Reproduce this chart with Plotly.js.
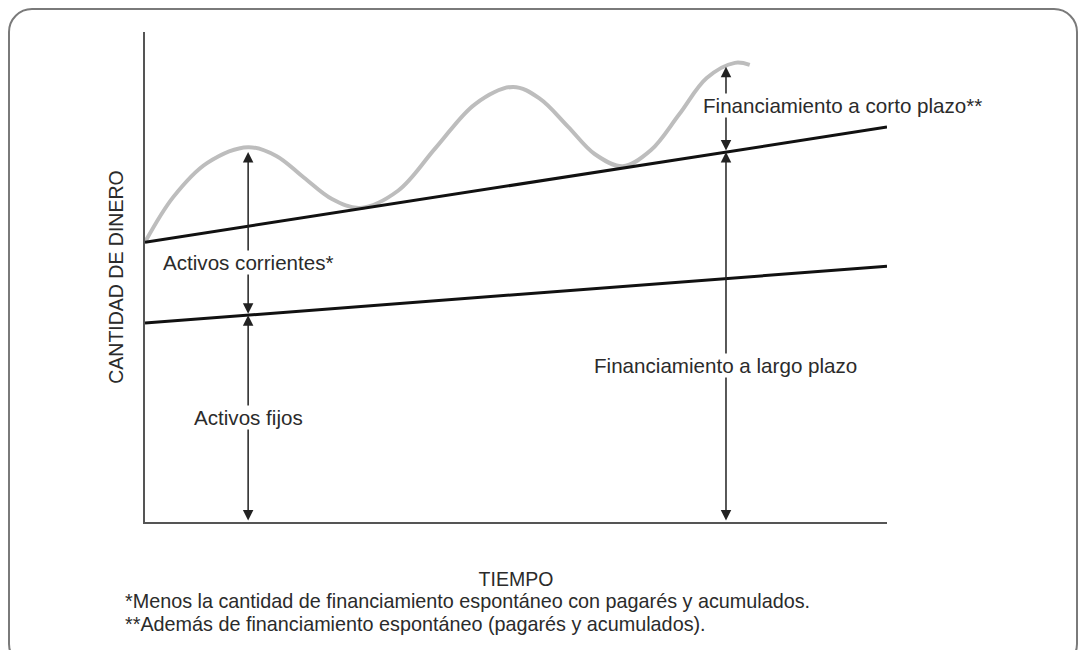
<!DOCTYPE html>
<html>
<head>
<meta charset="utf-8">
<script src="https://cdn.plot.ly/plotly-3.0.1.min.js"></script>
<style>
  html, body { margin: 0; padding: 0; background: #fff; overflow: hidden; }
  #frame {
    position: absolute; left: 8px; top: 8px; width: 1070px; height: 660px;
    border: 2.5px solid #7a7a7a; border-radius: 24px; box-sizing: border-box;
  }
  #chart { position: absolute; left: 0; top: 0; width: 1085px; height: 650px; }
</style>
</head>
<body>
<div id="frame"></div>
<div id="chart"></div>
<script>
// time axis runs 0..100, money axis 0..100 (arbitrary units, as in the sketch)
const lineX = [0, 100];
const upperLine = [57.1, 80.6];   // activos corrientes + fijos (trend)
const lowerLine = [40.6, 52.2];   // activos fijos

// total assets, fluctuating curve
const curveX = [0, 3.8, 8.4, 13.9, 17.7, 21.4, 25.2, 29.0, 34.1, 39.2, 44.5, 49.6, 53.2, 57.0, 60.6, 64.4, 68.2, 72.0, 75.7, 79.5, 81.5];
const curveY = [57.1, 66.3, 73.3, 76.5, 74.7, 70.3, 65.9, 64.1, 67.6, 76.4, 85.3, 88.8, 86.4, 80.7, 75.1, 72.6, 75.9, 83.2, 90.6, 93.7, 93.3];

// vertical measuring arrows
const arrowX = [13.9, 78.3];
const curveAtArrow = [75.5, 92.9];
const upperAtArrow = [60.4, 75.5];
const lowerAtArrow = [42.2, 49.7];

const labelActivosCorrientes = 'Activos corrientes*';
const labelActivosFijos = 'Activos fijos';
const labelCorto = 'Financiamiento a corto plazo**';
const labelLargo = 'Financiamiento a largo plazo';
const footnotes = [
  '*Menos la cantidad de financiamiento espontáneo con pagarés y acumulados.',
  '**Además de financiamiento espontáneo (pagarés y acumulados).'
];

const FONT = '"Liberation Sans", Arial, sans-serif';
const TXT = '#2b2b2b';
const ARROW = '#222';

const traces = [
  { x: curveX, y: curveY, mode: 'lines', line: { color: '#bdbdbd', width: 4, shape: 'spline', smoothing: 1 }, hoverinfo: 'skip' },
  { x: lineX, y: upperLine, mode: 'lines', line: { color: '#111', width: 3 }, hoverinfo: 'skip' },
  { x: lineX, y: lowerLine, mode: 'lines', line: { color: '#111', width: 3 }, hoverinfo: 'skip' }
];

function arrow(x, yTop, yBottom) {
  return {
    x: x, y: yTop, ax: x, ay: yBottom,
    xref: 'x', yref: 'y', axref: 'x', ayref: 'y',
    text: '', showarrow: true, arrowside: 'end+start',
    arrowhead: 2, startarrowhead: 2, arrowsize: 1.4, startarrowsize: 1.4,
    arrowwidth: 1.5, arrowcolor: ARROW, standoff: 0, startstandoff: 0
  };
}

function label(text, x, y, xanchor) {
  return {
    x: x, y: y, xref: 'x', yref: 'y', text: text, showarrow: false,
    xanchor: xanchor, yanchor: 'middle', bgcolor: '#fff', borderpad: 0,
    font: { family: FONT, size: 20.6, color: TXT }
  };
}

function footnote(text, y) {
  return {
    x: -0.03, y: y, xref: 'paper', yref: 'paper', text: text, showarrow: false,
    xanchor: 'left', yanchor: 'middle', font: { family: FONT, size: 19.8, color: TXT }
  };
}

const annotations = [
  arrow(arrowX[0], curveAtArrow[0], lowerAtArrow[0]),
  arrow(arrowX[0], lowerAtArrow[0], 0),
  arrow(arrowX[1], curveAtArrow[1], upperAtArrow[1]),
  arrow(arrowX[1], upperAtArrow[1], 0),
  label(labelActivosCorrientes, arrowX[0], 52.9, 'center'),
  label(labelActivosFijos, arrowX[0], 21.4, 'center'),
  label(labelCorto, 75.0, 84.9, 'left'),
  label(labelLargo, arrowX[1], 32.0, 'center'),
  footnote(footnotes[0], -0.161),
  footnote(footnotes[1], -0.208)
];

const layout = {
  width: 1085, height: 650,
  margin: { l: 145, r: 198, t: 32, b: 128 },
  paper_bgcolor: 'rgba(0,0,0,0)', plot_bgcolor: 'rgba(0,0,0,0)',
  showlegend: false,
  font: { family: FONT, color: TXT },
  xaxis: {
    range: [0, 100], showgrid: false, zeroline: false, showticklabels: false, ticks: '',
    showline: true, linecolor: '#555', linewidth: 2,
    title: { text: 'TIEMPO', standoff: 49, font: { family: FONT, size: 19.5, color: TXT } }
  },
  yaxis: {
    range: [0, 100], showgrid: false, zeroline: false, showticklabels: false, ticks: '',
    showline: true, linecolor: '#555', linewidth: 2,
    title: { text: 'CANTIDAD DE DINERO', standoff: 14, font: { family: FONT, size: 19.5, color: TXT } }
  },
  annotations: annotations
};

Plotly.newPlot('chart', traces, layout, { displayModeBar: false, staticPlot: true });
</script>
</body>
</html>
